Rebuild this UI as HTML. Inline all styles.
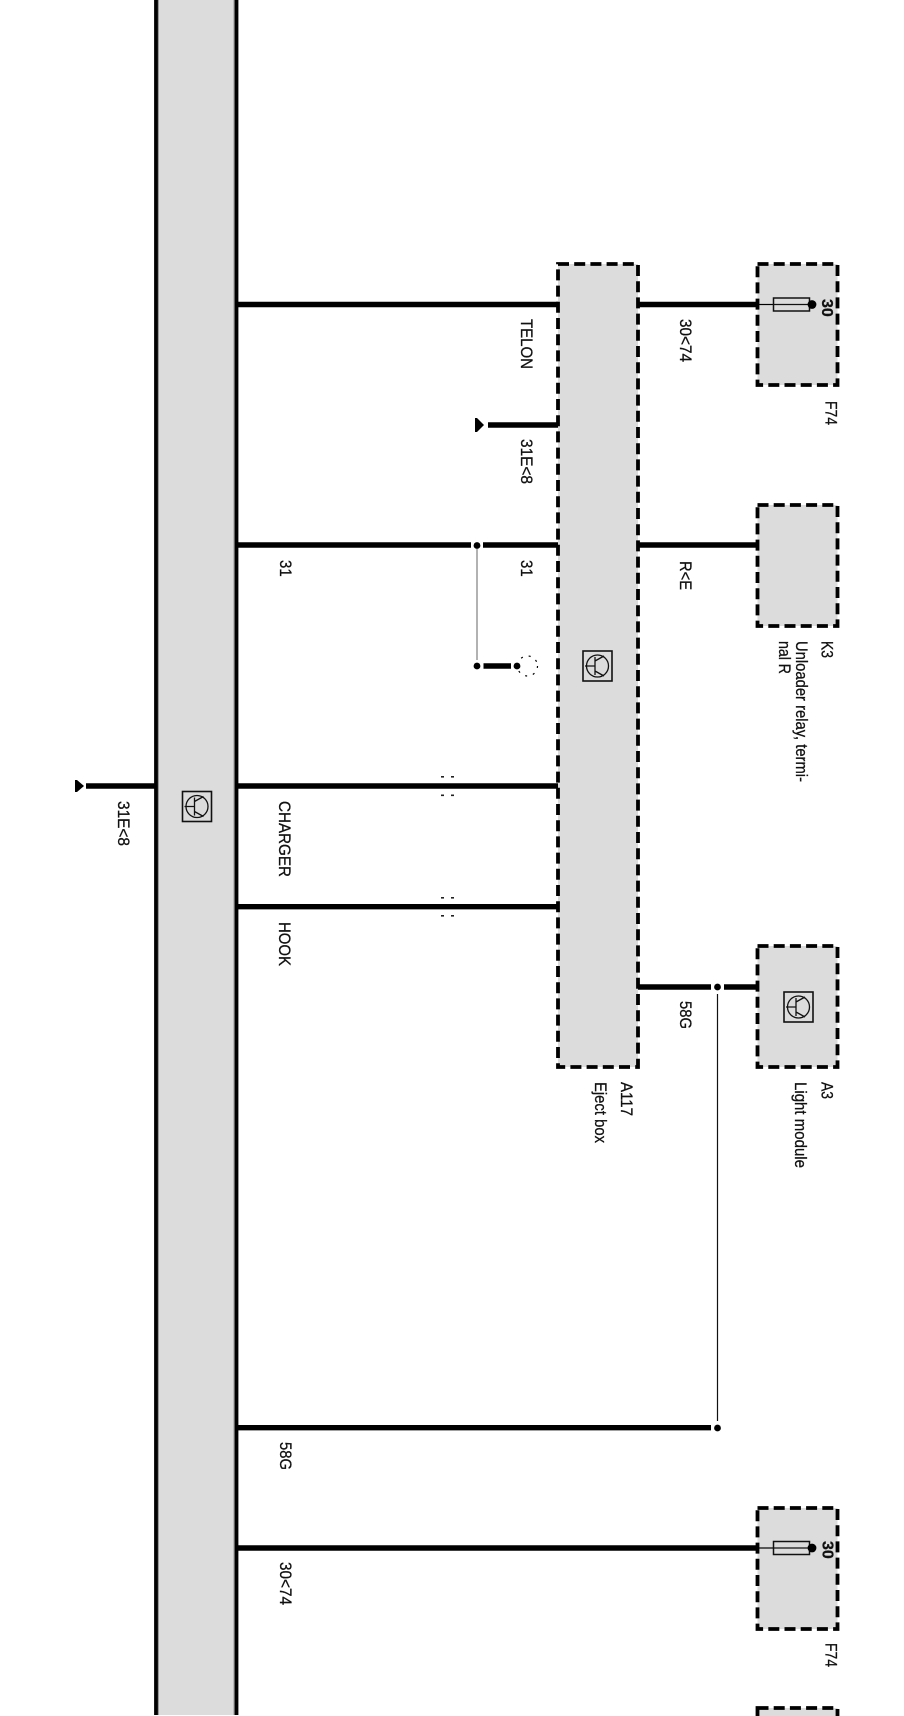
<!DOCTYPE html>
<html><head><meta charset="utf-8"><title>Wiring diagram</title>
<style>
html,body{margin:0;padding:0;background:#fff;width:904px;height:1716px;overflow:hidden}
svg{display:block}
text{font-family:"Liberation Sans",Arial,sans-serif;font-size:15px;fill:#111;stroke:#111;stroke-width:.25}
.w{stroke:#000;stroke-width:5.4;fill:none}
.b{fill:#dcdcdc;stroke:#000;stroke-width:3.8;stroke-dasharray:11 5.2}
.d{stroke:#000;stroke-width:1.6;fill:none;stroke-dasharray:2 6}
.i{fill:none;stroke:#111;stroke-width:1.3}
</style></head><body>
<svg width="904" height="1716" viewBox="0 0 904 1716" xmlns="http://www.w3.org/2000/svg">
<defs>
<g id="ic">
<rect x="0" y="0" width="29" height="30" class="i" style="stroke-width:1.6"/>
<circle cx="14.5" cy="15" r="11" class="i"/>
<path d="M2 15H12 M12 6V24 M12 10 L21 5 M12 20 L21 25" class="i"/>
</g>
<g id="fu">
<path d="M757 0H773" stroke="#000" stroke-width="1.2"/>
<rect x="773.5" y="-6.5" width="36" height="13" fill="#dcdcdc" stroke="#111" stroke-width="1.5"/>
<path d="M773 0H810" stroke="#111" stroke-width="1.2"/>
<circle cx="812" cy="0" r="4.4" fill="#000"/>
</g>
</defs>
<rect width="904" height="1716" fill="#fff"/>

<!-- bus -->
<rect x="156" y="-5" width="80.5" height="1720" fill="#dcdcdc"/>
<path d="M156 0V1715" stroke="#000" stroke-width="3.8"/>
<path d="M236.5 0V1715" stroke="#000" stroke-width="3.8"/>
<path d="M158.500 0V1715M234 0V1715" stroke="#999" stroke-width="1"/>

<!-- boxes -->
<rect x="558" y="264" width="80" height="803" class="b"/>
<rect x="757.5" y="264" width="80" height="121" class="b"/>
<rect x="757.5" y="505" width="80" height="121" class="b"/>
<rect x="757.5" y="946" width="80" height="121" class="b"/>
<rect x="757.5" y="1508" width="80" height="121" class="b"/>
<rect x="757.5" y="1708" width="80" height="30" class="b"/>

<!-- wires -->
<path class="w" d="M236 304.5H558 M638 304.5H759"/>
<path class="w" d="M488 425H558"/>
<path class="w" d="M236 545H471 M483 545H558 M638 545H759"/>
<path class="w" d="M483.5 666H511"/>
<path class="w" d="M86 786H156 M236 786H558"/>
<path class="w" d="M236 906.7H558"/>
<path class="w" d="M638 987H711 M724 987H759"/>
<path class="w" d="M236 1427.7H711"/>
<path class="w" d="M236 1548H759"/>

<!-- thin branches -->
<path d="M477 549V660" stroke="#888" stroke-width="1.3"/>
<path d="M717.5 994V1421" stroke="#111" stroke-width="1.2"/>

<!-- junctions -->
<circle cx="477" cy="545.5" r="3.4"/><circle cx="477" cy="666" r="3.4"/><circle cx="517" cy="666" r="3.4"/>
<circle cx="717.5" cy="987" r="3.4"/><circle cx="717.5" cy="1428" r="3.4"/>

<!-- dashed connector outlines -->
<circle cx="527.500" cy="666" r="10" class="d" style="stroke-width:1.2"/>
<g fill="#222">
<rect x="441" y="776" width="3" height="1.6"/><rect x="451" y="776" width="3" height="1.6"/>
<rect x="441" y="794.500" width="3" height="1.6"/><rect x="451" y="794.500" width="3" height="1.6"/>
<rect x="441" y="897" width="3" height="1.6"/><rect x="451" y="897" width="3" height="1.6"/>
<rect x="441" y="915" width="3" height="1.6"/><rect x="451" y="915" width="3" height="1.6"/>
</g>

<!-- grounds -->
<polygon points="475,418 477,418 484,425 477,432 475,432" fill="#000"/>
<polygon points="75,780 77,780 84,786 77,792 75,792" fill="#000"/>

<!-- fuses -->
<use href="#fu" transform="translate(0,304.5)"/>
<use href="#fu" transform="translate(0,1548)"/>

<!-- icons -->
<use href="#ic" transform="translate(182.500,791.500)"/>
<use href="#ic" transform="translate(583,651)"/>
<use href="#ic" transform="translate(784,992)"/>

<!-- labels -->
<g>
<text transform="translate(521,319) rotate(90) scale(1,1.12)" textLength="50" lengthAdjust="spacingAndGlyphs">TELON</text>
<text transform="translate(521,439) rotate(90) scale(1,1.12)" textLength="45" lengthAdjust="spacingAndGlyphs">31E&lt;8</text>
<text transform="translate(521,560) rotate(90) scale(1,1.12)">31</text>
<text transform="translate(280,560) rotate(90) scale(1,1.12)">31</text>
<text transform="translate(680,319) rotate(90) scale(1,1.12)" textLength="43" lengthAdjust="spacingAndGlyphs">30&lt;74</text>
<text transform="translate(825.500,401) rotate(90) scale(1,1.12)" textLength="24" lengthAdjust="spacingAndGlyphs">F74</text>
<text transform="translate(822,299) rotate(90)" style="font-size:16px;font-weight:bold">30</text>
<text transform="translate(680,561) rotate(90) scale(1,1.12)" textLength="29" lengthAdjust="spacingAndGlyphs">R&lt;E</text>
<text transform="translate(821.500,641) rotate(90) scale(1,1.12)" textLength="17" lengthAdjust="spacingAndGlyphs">K3</text>
<text transform="translate(796,641) rotate(90) scale(1,1.12)" textLength="141" lengthAdjust="spacingAndGlyphs">Unloader relay, termi-</text>
<text transform="translate(779,641) rotate(90) scale(1,1.12)" textLength="33" lengthAdjust="spacingAndGlyphs">nal R</text>
<text transform="translate(118,801) rotate(90) scale(1,1.12)" textLength="45" lengthAdjust="spacingAndGlyphs">31E&lt;8</text>
<text transform="translate(279,801) rotate(90) scale(1,1.12)" textLength="76" lengthAdjust="spacingAndGlyphs">CHARGER</text>
<text transform="translate(279,922) rotate(90) scale(1,1.12)" textLength="44" lengthAdjust="spacingAndGlyphs">HOOK</text>
<text transform="translate(680,1001) rotate(90) scale(1,1.12)" textLength="28" lengthAdjust="spacingAndGlyphs">58G</text>
<text transform="translate(621,1082) rotate(90) scale(1,1.12)" textLength="34" lengthAdjust="spacingAndGlyphs">A117</text>
<text transform="translate(595,1082) rotate(90) scale(1,1.12)" textLength="61" lengthAdjust="spacingAndGlyphs">Eject box</text>
<text transform="translate(821.500,1082) rotate(90) scale(1,1.12)" textLength="17" lengthAdjust="spacingAndGlyphs">A3</text>
<text transform="translate(795,1082) rotate(90) scale(1,1.12)" textLength="86" lengthAdjust="spacingAndGlyphs">Light module</text>
<text transform="translate(280,1442) rotate(90) scale(1,1.12)" textLength="28" lengthAdjust="spacingAndGlyphs">58G</text>
<text transform="translate(280,1562) rotate(90) scale(1,1.12)" textLength="43" lengthAdjust="spacingAndGlyphs">30&lt;74</text>
<text transform="translate(825.500,1643) rotate(90) scale(1,1.12)" textLength="24" lengthAdjust="spacingAndGlyphs">F74</text>
<text transform="translate(822.500,1541) rotate(90)" style="font-size:16px;font-weight:bold">30</text>
</g>
</svg>
</body></html>
